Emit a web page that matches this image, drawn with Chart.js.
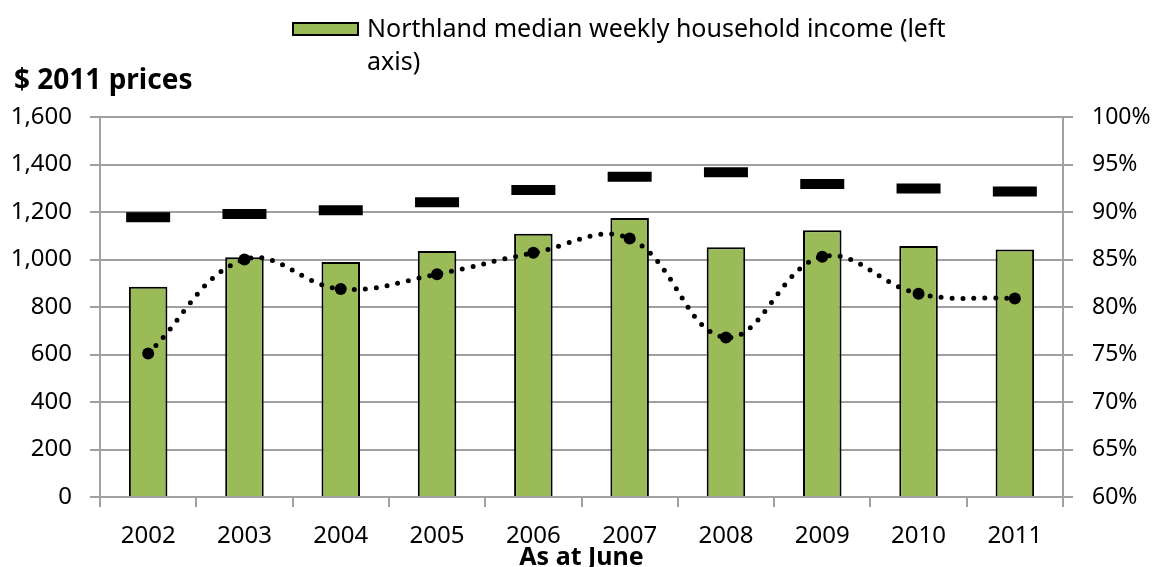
<!DOCTYPE html>
<html>
<head>
<meta charset="utf-8">
<script src="https://cdn.jsdelivr.net/npm/chart.js@4/dist/chart.umd.min.js"></script>
<style>
  html, body { margin: 0; padding: 0; background: #fff; }
  #wrap { position: relative; width: 1157px; height: 567px; overflow: hidden; }
  #c { position: absolute; left: 0; top: 0; }
  .ovl { position: absolute; font-family: "Noto Sans", sans-serif; color: #000; white-space: nowrap; }
  #ytitle { left: 14px; top: 58px; font-size: 28px; font-weight: bold; line-height: 40px; }
  #legbox { position: absolute; left: 292px; top: 22px; width: 63px; height: 10px; background: #9BBB59; border: 2px solid #000; }
  #legtext { left: 367px; top: 11px; font-size: 25px; line-height: 33px; }
</style>
</head>
<body>
<div id="wrap">
  <canvas id="c" width="1157" height="567"></canvas>
  <div id="ytitle" class="ovl">$ 2011 prices</div>
  <div id="legbox"></div>
  <div id="legtext" class="ovl">Northland median weekly household income (left<br>axis)</div>
</div>
<script>
const years = ["2002","2003","2004","2005","2006","2007","2008","2009","2010","2011"];
const northlandIncome = [885, 1010, 990, 1036, 1108, 1175, 1052, 1123, 1057, 1042];
const nzIncome = [1178, 1192, 1207, 1241, 1293, 1348, 1367, 1318, 1299, 1286];
const ratioPct = [75.1, 85.0, 81.9, 83.45, 85.7, 87.2, 76.8, 85.3, 81.4, 80.9];
const leftTicks = { min: 0, max: 1600, step: 200 };
const rightTicks = { min: 60, max: 100, step: 5 };

Chart.defaults.font.family = '"Noto Sans", sans-serif';
Chart.defaults.color = '#000';

const gridColor = '#a0a0a0';

new Chart(document.getElementById('c'), {
  type: 'bar',
  data: {
    labels: years,
    datasets: [
      {
        type: 'line',
        label: 'Ratio (right axis)',
        data: ratioPct,
        yAxisID: 'y1',
        order: 0,
        borderColor: '#000',
        borderWidth: 5,
        borderDash: [0, 11],
        borderCapStyle: 'round',
        tension: 0.4,
        fill: false,
        pointRadius: 6,
        pointBackgroundColor: '#000',
        pointBorderColor: '#000',
        pointBorderWidth: 0
      },
      {
        type: 'line',
        label: 'NZ median weekly household income (left axis)',
        data: nzIncome,
        yAxisID: 'y',
        order: 1,
        showLine: false,
        pointStyle: 'line',
        pointRadius: 22,
        pointBorderWidth: 10,
        pointBorderColor: '#000',
        pointBackgroundColor: '#000'
      },
      {
        type: 'bar',
        label: 'Northland median weekly household income (left axis)',
        data: northlandIncome,
        yAxisID: 'y',
        order: 2,
        backgroundColor: '#9BBB59',
        borderColor: '#000',
        borderWidth: 2,
        barPercentage: 0.4,
        categoryPercentage: 1.0
      }
    ]
  },
  options: {
    responsive: false,
    animation: false,
    layout: { padding: { top: 117, left: 0, right: 0, bottom: 0 } },
    plugins: {
      legend: { display: false },
      tooltip: { enabled: false },
      title: { display: false }
    },
    scales: {
      x: {
        offset: true,
        afterFit: (s) => { s.height = 70; },
        grid: { offset: true, drawOnChartArea: false, color: gridColor, lineWidth: 2, tickLength: 10 },
        border: { display: true, color: gridColor, width: 2 },
        ticks: { font: { size: 24 }, padding: 15, maxRotation: 0 },
        title: { display: true, text: 'As at June', font: { size: 25, weight: 'bold', lineHeight: 0.7 }, padding: { top: 0, bottom: 0 } }
      },
      y: {
        position: 'left',
        min: leftTicks.min, max: leftTicks.max,
        afterFit: (s) => { s.width = 100; },
        grid: { color: gridColor, lineWidth: 2, tickLength: 10 },
        border: { display: true, color: gridColor, width: 2 },
        ticks: { stepSize: leftTicks.step, font: { size: 24 }, padding: 18,
          callback: (v) => v.toLocaleString('en-US') }
      },
      y1: {
        position: 'right',
        min: rightTicks.min, max: rightTicks.max,
        afterFit: (s) => { s.width = 94; },
        grid: { drawOnChartArea: false, color: gridColor, lineWidth: 2, tickLength: 10 },
        border: { display: true, color: gridColor, width: 2 },
        ticks: { stepSize: rightTicks.step, font: { size: 23 }, padding: 19,
          callback: (v) => v + '%' }
      }
    }
  }
});
</script>
</body>
</html>
